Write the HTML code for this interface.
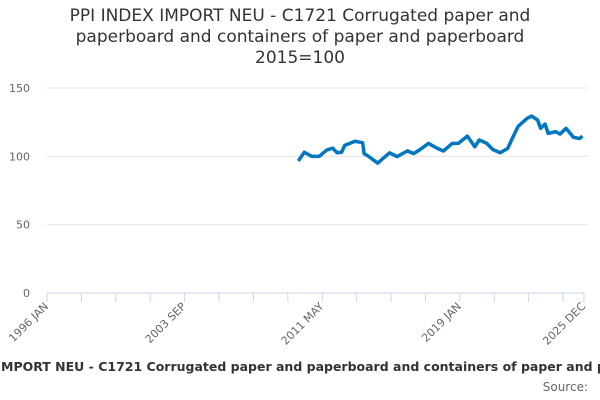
<!DOCTYPE html>
<html><head><meta charset="utf-8"><style>
body{margin:0;width:600px;height:400px;overflow:hidden;background:#fff;font-family:"Liberation Sans","DejaVu Sans",sans-serif}
#title{position:absolute;top:6px;left:0;width:600px;text-align:center;font-family:"DejaVu Sans",sans-serif;font-size:17px;line-height:21px;color:#333}
</style></head><body>
<div id="title">PPI INDEX IMPORT NEU - C1721 Corrugated paper and<br>paperboard and containers of paper and paperboard<br>2015=100</div>
<svg id="chart" width="600" height="400" style="position:absolute;left:0;top:0"></svg>
<script>
const monthIdx=[168,172,177,182,187,191,194,197,199,206,211,212,215,221,229,234,241,245,249,255,261,265,271,275,281,286,289,294,298,303,308,311,315,321,324,328,330,333,335,340,343,347,352,356,358];
const values=[96.6,103,100,100,104.6,106,102.6,103,108,111,110,102,100,95,102.6,99.8,104,102,104.6,109.5,105.8,103.9,109.5,109.5,114.8,107,112,109.5,105,102.6,105.8,113,122,127.8,129.5,126.5,120.5,123.6,116.8,118,116.3,120.5,113.9,113,114.8];
const yTicks=[0,50,100,150];
const xLabels=["1996 JAN","2003 SEP","2011 MAY","2019 JAN","2025 DEC"];
const xLabelIdx=[0,92,184,276,359];
const NS="http://www.w3.org/2000/svg";
const svg=document.getElementById('chart');
const x0=47,x1=584,y0=293,yTop=88;
const X=m=>x0+(x1-x0)*m/359;
const Y=v=>y0-(y0-yTop)*v/150;
function el(t,a){const e=document.createElementNS(NS,t);for(const k in a)e.setAttribute(k,a[k]);svg.appendChild(e);return e;}
yTicks.forEach(v=>{
  if(v>0){const g=el('line',{x1:x0,x2:x1+4,y1:Y(v),y2:Y(v),stroke:'#e6e6e6'});
  
  }
  const t=el('text',{x:30,y:Y(v)+4,'text-anchor':'end','font-size':11,fill:'#666','font-family':'DejaVu Sans,sans-serif'});
  t.textContent=v;
  
  
});
const ax=el('line',{x1:x0,x2:x1,y1:y0,y2:y0,stroke:'#ccd6eb'});


for(let m=0;m<=359;m+=23){
  const tk=el('line',{x1:X(m),x2:X(m),y1:y0,y2:y0+9,stroke:'#ccd6eb'});
  
  
}
const lt=el('line',{x1:X(359),x2:X(359),y1:y0,y2:y0+9,stroke:'#ccd6eb'});


xLabels.forEach((l,i)=>{
  const x=X(xLabelIdx[i]);
  const t=el('text',{x:x+2,y:y0+14,'text-anchor':'end','font-size':11,fill:'#666','font-family':'DejaVu Sans,sans-serif',transform:`rotate(-45 ${x+2} ${y0+14})`});
  t.textContent=l;
  
  
});
const p=el('polyline',{points:monthIdx.map((m,i)=>X(m)+','+Y(values[i])).join(' '),fill:'none',stroke:'#0077c0','stroke-width':3.5,'stroke-linejoin':'round'});


const f=el('text',{x:300,y:371,'text-anchor':'middle','font-size':12.5,'font-weight':'bold',fill:'#333','font-family':'DejaVu Sans,sans-serif'});
f.textContent='PPI INDEX IMPORT NEU - C1721 Corrugated paper and paperboard and containers of paper and paperboard';


const s=el('text',{x:588,y:391,'text-anchor':'end','font-size':12,fill:'#666','font-family':'DejaVu Sans,sans-serif'});
s.textContent='Source:';


</script>
</body></html>
